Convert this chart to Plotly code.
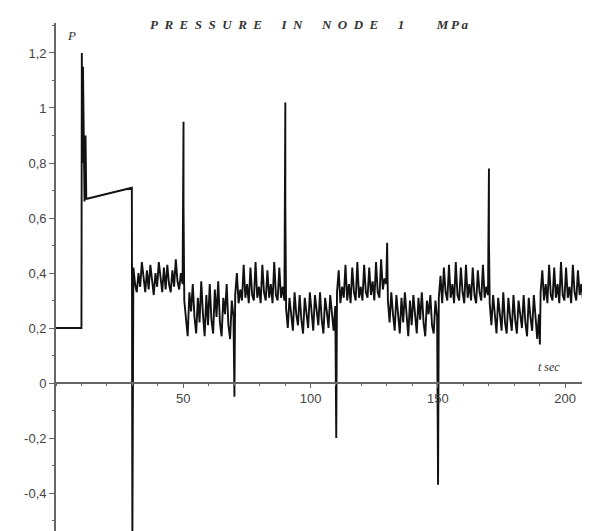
import plotly.graph_objects as go

# ---- data ----
# start-up part (time s, pressure MPa)
start_t = [0, 10.0, 10.15, 10.4, 10.6, 10.9, 11.2, 11.6, 11.9, 12.2, 29.8, 30.0, 30.4]
start_p = [0.2, 0.2, 1.20, 0.80, 1.15, 0.68, 0.66, 0.90, 0.67, 0.67, 0.71, -0.60, 0.42]

# oscillating segments, 20 s each, sampled every 2/3 s
seg_starts = [30.4, 50.4, 70.4, 90.4, 110.4, 130.4, 150.4, 170.4, 190.4]
seg_values = [
    [0.42, 0.36, 0.33, 0.40, 0.35, 0.44, 0.37, 0.33, 0.41, 0.34, 0.43, 0.36, 0.32, 0.40, 0.35,
     0.44, 0.37, 0.33, 0.42, 0.34, 0.43, 0.36, 0.33, 0.41, 0.35, 0.45, 0.37, 0.34, 0.40, 0.36],
    [0.30, 0.22, 0.17, 0.33, 0.26, 0.36, 0.24, 0.18, 0.31, 0.22, 0.37, 0.25, 0.17, 0.32, 0.21,
     0.36, 0.23, 0.18, 0.34, 0.24, 0.37, 0.22, 0.17, 0.31, 0.25, 0.36, 0.21, 0.16, 0.30, 0.24],
    [0.32, 0.40, 0.29, 0.34, 0.30, 0.43, 0.31, 0.36, 0.29, 0.42, 0.32, 0.30, 0.44, 0.31, 0.35,
     0.29, 0.43, 0.33, 0.30, 0.41, 0.31, 0.36, 0.29, 0.44, 0.32, 0.30, 0.42, 0.31, 0.35, 0.30],
    [0.27, 0.20, 0.31, 0.24, 0.19, 0.33, 0.25, 0.21, 0.32, 0.23, 0.18, 0.31, 0.26, 0.20, 0.33,
     0.24, 0.19, 0.32, 0.25, 0.21, 0.33, 0.23, 0.18, 0.31, 0.26, 0.20, 0.32, 0.24, 0.19, 0.28],
    [0.33, 0.41, 0.29, 0.35, 0.31, 0.43, 0.30, 0.36, 0.29, 0.42, 0.33, 0.30, 0.44, 0.31, 0.35,
     0.30, 0.43, 0.33, 0.31, 0.42, 0.32, 0.37, 0.30, 0.44, 0.33, 0.31, 0.45, 0.34, 0.38, 0.36],
    [0.30, 0.22, 0.33, 0.25, 0.19, 0.32, 0.24, 0.18, 0.31, 0.22, 0.33, 0.25, 0.17, 0.30, 0.21,
     0.32, 0.24, 0.18, 0.31, 0.23, 0.33, 0.22, 0.17, 0.30, 0.25, 0.32, 0.21, 0.18, 0.30, 0.24],
    [0.31, 0.39, 0.29, 0.42, 0.33, 0.30, 0.43, 0.31, 0.36, 0.29, 0.44, 0.32, 0.30, 0.42, 0.33,
     0.29, 0.43, 0.31, 0.36, 0.30, 0.42, 0.32, 0.29, 0.41, 0.33, 0.30, 0.43, 0.31, 0.35, 0.32],
    [0.29, 0.21, 0.32, 0.24, 0.18, 0.31, 0.25, 0.19, 0.33, 0.22, 0.18, 0.31, 0.24, 0.19, 0.32,
     0.23, 0.18, 0.30, 0.25, 0.20, 0.32, 0.22, 0.17, 0.31, 0.24, 0.19, 0.32, 0.22, 0.16, 0.25],
    [0.33, 0.41, 0.30, 0.36, 0.29, 0.43, 0.32, 0.30, 0.42, 0.31, 0.36, 0.29, 0.44, 0.32, 0.30,
     0.42, 0.31, 0.35, 0.29, 0.43, 0.33, 0.30, 0.41, 0.32, 0.36, 0.30, 0.43, 0.31, 0.34, 0.32],
]
# spikes at the segment joins (time, list of pressure extremes)
spike_t = [50.1, 70.1, 90.1, 110.1, 130.1, 150.1, 170.1, 190.1]
spike_p = [[0.95, 0.40, 0.65], [-0.05], [1.02, 0.40, 0.65], [-0.20],
           [0.51], [-0.37], [0.78, 0.40, 0.52], [0.14]]

seg_step = 20.0 / 30

t, p = list(start_t), list(start_p)
for i, (s0, vals) in enumerate(zip(seg_starts, seg_values)):
    for k, v in enumerate(vals):
        t.append(s0 + k * seg_step)
        p.append(v)
    if i < len(spike_t):
        for v in spike_p[i]:
            t.append(spike_t[i])
            p.append(v)

x_ticks = [50, 100, 150, 200]
y_ticks = [-0.4, -0.2, 0, 0.2, 0.4, 0.6, 0.8, 1, 1.2]
y_ticktext = ["-0,4", "-0,2", "0", "0,2", "0,4", "0,6", "0,8", "1", "1,2"]

title_words = ["PRESSURE", "IN", "NODE", "1"]
title_unit = "MPa"

y_min, y_max = -0.538, 1.309

fig = go.Figure(go.Scatter(x=t, y=p, mode="lines",
                           line=dict(color="#111", width=1.9),
                           hoverinfo="skip"))

EN, EM = "\u2002", "\u2003"
title_text = (EM + EN).join(EN.join(w) for w in title_words) + EM * 2 + EN + "\u2009".join(title_unit)

axis_color = "#666"
fig.update_layout(
    width=590, height=531,
    margin=dict(l=48, r=8, t=15, b=8, autoexpand=False),
    paper_bgcolor="white", plot_bgcolor="white",
    showlegend=False,
    xaxis=dict(range=[0, 209.8], showgrid=False, zeroline=False, automargin=False,
               showline=True, linecolor=axis_color, linewidth=1.6,
               anchor="free", position=(0 - y_min) / (y_max - y_min),
               tickvals=x_ticks, ticks="outside", ticklen=4, tickwidth=1.2,
               tickcolor=axis_color,
               minor=dict(dtick=10, ticks="outside", ticklen=2, tickcolor=axis_color),
               tickfont=dict(family="Liberation Sans", size=13, color="#444")),
    yaxis=dict(range=[y_min, y_max], showgrid=False, zeroline=False, automargin=False,
               showline=True, linecolor=axis_color, linewidth=1.8,
               tickvals=y_ticks, ticktext=y_ticktext, ticks="outside",
               ticklen=5, tickwidth=1.2, tickcolor=axis_color,
               minor=dict(dtick=0.1, ticks="outside", ticklen=2, tickcolor=axis_color),
               tickfont=dict(family="Liberation Sans", size=13, color="#444")),
    annotations=[
        dict(text="<b><i>" + title_text + "</i></b>",
             xref="paper", yref="paper", x=(309 - 56) / 534, y=(531 - 25) / 508,
             xanchor="center", yanchor="middle", showarrow=False,
             font=dict(family="Liberation Serif", size=13, color="#333")),
        dict(text="<i>P</i>", xref="paper", yref="paper",
             x=(71 - 56) / 534, y=(531 - 36) / 508, xanchor="center", yanchor="middle",
             showarrow=False, font=dict(family="Liberation Serif", size=13, color="#333")),
        dict(text="<i>t sec</i>", xref="x", yref="y", x=193.5, y=0.058,
             xanchor="center", yanchor="middle", showarrow=False,
             font=dict(family="Liberation Serif", size=12, color="#333")),
    ],
)

fig.write_html("out.html")
